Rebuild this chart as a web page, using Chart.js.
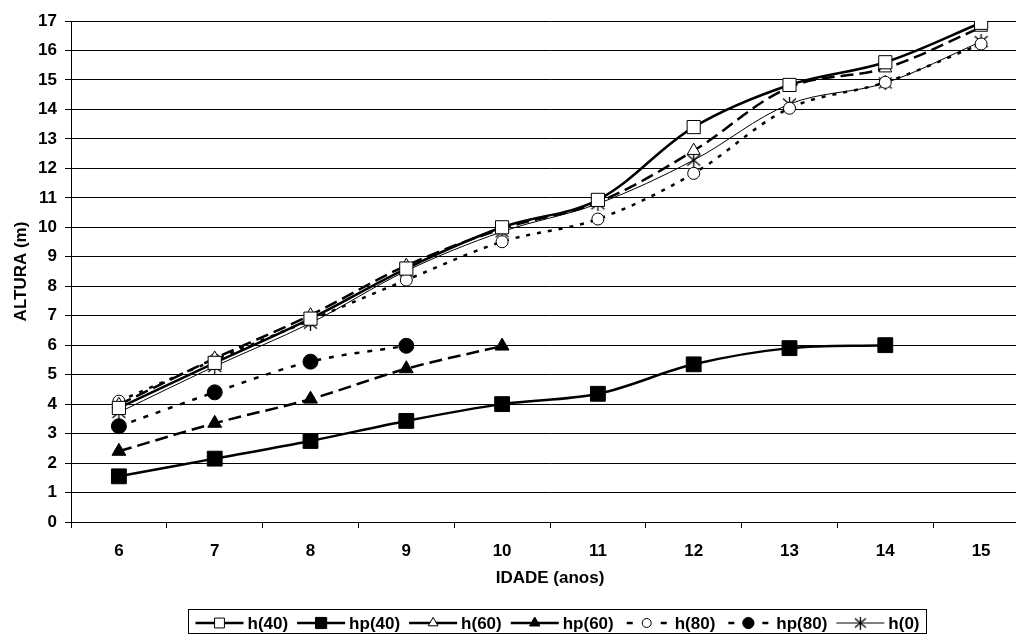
<!DOCTYPE html>
<html>
<head>
<meta charset="utf-8">
<script src="https://cdn.jsdelivr.net/npm/chart.js@4/dist/chart.umd.min.js"></script>
<style>
  html, body { margin: 0; padding: 0; background: #fff; overflow: hidden; }
  #wrap { position: relative; width: 1042px; height: 635px; }
</style>
</head>
<body>
<div id="wrap"><canvas id="myChart"></canvas></div>
<script>
// ages (years) along the x axis
const idade = ['6', '7', '8', '9', '10', '11', '12', '13', '14', '15'];

// heights in metres
const h40  = [3.87, 5.40, 6.90, 8.60, 10.00, 10.93, 13.40, 14.83, 15.60, 16.94];
const hp40 = [1.55, 2.15, 2.75, 3.43, 4.00, 4.35, 5.35, 5.90, 6.00, null];
const h60  = [3.98, 5.55, 7.02, 8.70, 9.95, 10.85, 12.60, 14.75, 15.40, 16.78];
const hp60 = [2.40, 3.35, 4.17, 5.20, 5.97, null, null, null, null, null];
const h80  = [4.10, 5.50, 6.85, 8.21, 9.51, 10.28, 11.83, 14.04, 14.92, 16.22];
const hp80 = [3.25, 4.40, 5.44, 5.98, null, null, null, null, null, null];
const h0   = [3.72, 5.28, 6.75, 8.52, 9.85, 10.80, 12.28, 14.18, 14.90, 16.30];

const FONT = "'Liberation Sans', Arial, sans-serif";

// six-armed asterisk marker (x plus vertical bar)
function makeAsterisk(size) {
    const c = document.createElement('canvas');
    c.width = size; c.height = size;
    const g = c.getContext('2d');
    const m = size / 2;
    g.strokeStyle = '#000';
    g.lineWidth = 1.3;
    g.beginPath();
    g.moveTo(m, 0); g.lineTo(m, size);
    g.moveTo(1, 2); g.lineTo(size - 1, size - 2);
    g.moveTo(size - 1, 2); g.lineTo(1, size - 2);
    g.stroke();
    return c;
}
const asterisk = makeAsterisk(15);
const asteriskSmall = makeAsterisk(13);

function series(label, data, opts) {
    return Object.assign({
        label: label,
        data: data,
        borderColor: '#000',
        pointBorderColor: '#000',
        pointBorderWidth: 1,
        borderWidth: 2.5,
        tension: 0.35,
        spanGaps: false,
        fill: false
    }, opts);
}

const datasets = [
    series('h(40)', h40, {pointStyle: 'rect', pointRadius: 9.3, pointBackgroundColor: '#fff'}),
    series('hp(40)', hp40, {pointStyle: 'rect', pointRadius: 10.5, pointBackgroundColor: '#000'}),
    series('h(60)', h60, {pointStyle: 'triangle', pointRadius: 7.5, pointBackgroundColor: '#fff', borderDash: [13, 6], legendSolid: true}),
    series('hp(60)', hp60, {pointStyle: 'triangle', pointRadius: 8, pointBackgroundColor: '#000', borderDash: [13, 6], legendSolid: true}),
    series('h(80)', h80, {pointStyle: 'circle', pointRadius: 6, pointBackgroundColor: '#fff', borderDash: [4, 7]}),
    series('hp(80)', hp80, {pointStyle: 'circle', pointRadius: 7.5, pointBackgroundColor: '#000', borderDash: [5, 8]}),
    series('h(0)', h0, {pointStyle: asterisk, legendStyle: asteriskSmall, pointRadius: 7, borderWidth: 1})
];

// boxed legend under the axis title, each entry drawn as line + marker + line
const boxLegend = {
    id: 'boxLegend',
    afterDraw(chart) {
        const ctx = chart.ctx;
        const sample = 48, gapText = 4, gapItem = 9, pad = 7;
        const cy = 623, centerX = 557;
        ctx.save();
        ctx.font = 'bold 17px ' + FONT;
        const sets = chart.data.datasets;
        let total = pad * 2;
        sets.forEach((ds, i) => {
            total += sample + gapText + ctx.measureText(ds.label).width;
            if (i < sets.length - 1) total += gapItem;
        });
        const left = Math.round(centerX - total / 2) + 0.5;
        ctx.strokeStyle = '#000';
        ctx.lineWidth = 1;
        ctx.strokeRect(left, 609.5, Math.round(total), 24);

        let x = left + pad;
        sets.forEach(ds => {
            ctx.save();
            ctx.strokeStyle = '#000';
            ctx.lineWidth = ds.borderWidth;
            ctx.beginPath();
            if (ds.borderDash && !ds.legendSolid) {
                // short-dash series show just a dash at each end
                ctx.moveTo(x + 4, cy); ctx.lineTo(x + 10, cy);
                ctx.moveTo(x + sample - 10, cy); ctx.lineTo(x + sample - 4, cy);
            } else {
                ctx.moveTo(x, cy);
                ctx.lineTo(x + sample, cy);
            }
            ctx.stroke();
            ctx.fillStyle = ds.pointBackgroundColor || '#000';
            ctx.lineWidth = 1;
            Chart.helpers.drawPoint(ctx, {
                pointStyle: ds.legendStyle || ds.pointStyle,
                radius: ds.pointRadius * 0.75,
                rotation: 0,
                borderWidth: 1
            }, x + sample / 2, cy);
            ctx.restore();
            x += sample + gapText;
            ctx.fillStyle = '#000';
            ctx.textBaseline = 'middle';
            ctx.textAlign = 'left';
            ctx.fillText(ds.label, x, cy + 1);
            x += ctx.measureText(ds.label).width + gapItem;
        });
        ctx.restore();
    }
};

const ctx = document.getElementById('myChart');
const myChart = new Chart(ctx, {
    type: 'line',
    data: {labels: idade, datasets: datasets},
    options: {
        responsive: true,
        maintainAspectRatio: false,
        animation: false,
        layout: {padding: {top: 21, right: 13, left: 0, bottom: 38}},
        plugins: {
            legend: {display: false},
            tooltip: {enabled: false}
        },
        scales: {
            x: {
                offset: true,
                grid: {
                    offset: true,
                    drawOnChartArea: false,
                    drawTicks: true,
                    tickLength: 6,
                    color: '#000'
                },
                border: {color: '#000', width: 1},
                ticks: {
                    color: '#000',
                    padding: 13,
                    maxRotation: 0,
                    font: {family: FONT, size: 17, weight: 'bold'}
                },
                title: {
                    display: true,
                    text: 'IDADE (anos)',
                    color: '#000',
                    padding: {top: 0, bottom: 8},
                    font: {family: FONT, size: 17, weight: 'bold'}
                },
                afterFit(scale) { scale.height = 75; }
            },
            y: {
                min: 0,
                max: 17,
                grid: {
                    color: '#000',
                    lineWidth: 1,
                    tickLength: 6
                },
                border: {color: '#000', width: 1},
                ticks: {
                    stepSize: 1,
                    color: '#000',
                    padding: 8,
                    font: {family: FONT, size: 17, weight: 'bold'}
                },
                title: {
                    display: true,
                    text: 'ALTURA (m)',
                    color: '#000',
                    padding: {top: 11, bottom: 0},
                    font: {family: FONT, size: 17, weight: 'bold'}
                },
                afterFit(scale) { scale.width = 71; }
            }
        }
    },
    plugins: [boxLegend]
});
</script>
</body>
</html>
